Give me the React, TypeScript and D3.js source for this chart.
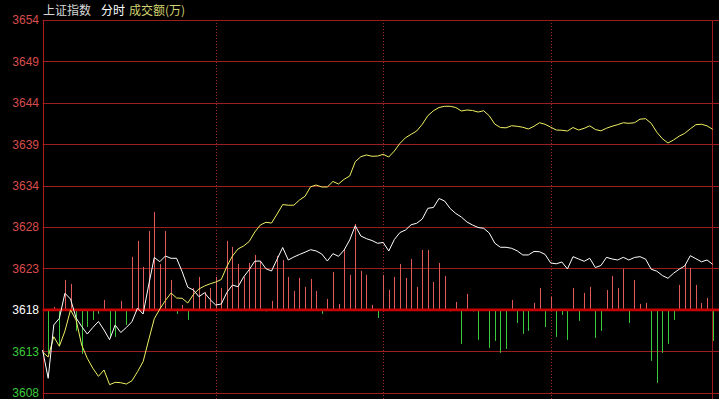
import React from "react";
import * as d3 from "d3";

// ---- data ----
const titleParts = ["上证指数", "分时", "成交额(万)"];
const tickLabels = ["3608", "3613", "3618", "3623", "3628", "3634", "3639", "3644", "3649", "3654"];
const priceDomain = [3608, 3654];
const prevClose = 3618.22;
const sessionMarks = [31, 61, 91];

// index price (white), one point per 2 minutes, starting at the open
const indexPrices = [
  3613.27, 3609.78, 3616.36, 3617.18, 3620.27, 3619.56, 3617.22, 3616.17, 3615.24, 3616.05,
  3616.79, 3615.74, 3614.54, 3616.36, 3615.43, 3616.05, 3616.76, 3618.45, 3617.71, 3621.29,
  3624.69, 3624.17, 3624.87, 3624.59, 3624.59, 3622.93, 3621.01, 3620.68, 3619.85, 3620.34,
  3619.5, 3618.82, 3618.95, 3620.37, 3621.29, 3621.08, 3622.28, 3623.18, 3624.23, 3624.25,
  3623.3, 3623.02, 3624.48, 3625.92, 3624.38, 3624.75, 3625.06, 3625.34, 3625.65, 3625.49,
  3625.12, 3624.25, 3625.16, 3624.83, 3625.61, 3626.85, 3628.61, 3627.34, 3627.01, 3626.78,
  3626.44, 3626.54, 3625.49, 3626.91, 3627.77, 3628.08, 3628.73, 3628.91, 3629.44, 3630.76,
  3630.86, 3631.97, 3631.66, 3630.73, 3630.12, 3629.68, 3629.07, 3628.7, 3628.39, 3628.29,
  3627.71, 3626.44, 3625.95, 3625.95, 3625.82, 3625.51, 3625.0, 3625.0, 3625.43, 3625.4,
  3625.06, 3624.01, 3623.91, 3624.13, 3623.27, 3624.79, 3624.5, 3624.22, 3624.59, 3623.45,
  3623.7, 3624.71, 3624.5, 3624.38, 3624.71, 3624.38, 3624.69, 3624.79, 3624.48, 3623.24,
  3623.0, 3622.46, 3622.12, 3622.74, 3623.24, 3623.64, 3624.91, 3624.54, 3624.16, 3624.38,
  3623.85,
];

// leading (unweighted) index (yellow)
const leadPrices = [
  3613.02, 3612.41, 3614.91, 3613.73, 3615.61, 3618.21, 3616.97, 3613.89, 3612.25, 3611.01,
  3610.02, 3610.8, 3608.99, 3609.28, 3609.23, 3609.07, 3609.47, 3610.59, 3611.83, 3614.5,
  3617.13, 3618.33, 3619.38, 3620.3, 3619.69, 3619.65, 3619.07, 3620.12, 3620.8, 3621.17,
  3621.44, 3621.66, 3621.97, 3623.58, 3624.87, 3625.74, 3626.11, 3626.66, 3627.83, 3628.7,
  3629.03, 3628.94, 3630.05, 3631.22, 3631.14, 3631.14, 3631.78, 3632.24, 3633.42, 3633.63,
  3633.39, 3633.39, 3634.07, 3633.76, 3634.34, 3634.74, 3636.51, 3637.13, 3637.34, 3637.18,
  3637.21, 3637.42, 3637.09, 3637.83, 3638.78, 3639.47, 3639.89, 3640.3, 3641.13, 3642.19,
  3642.8, 3643.2, 3643.35, 3643.35, 3643.2, 3642.77, 3642.89, 3642.83, 3642.64, 3642.8,
  3642.17, 3641.14, 3640.73, 3640.69, 3640.95, 3640.88, 3640.76, 3640.55, 3640.88, 3641.32,
  3641.13, 3640.77, 3640.42, 3640.39, 3640.3, 3640.73, 3640.42, 3640.63, 3640.94, 3640.48,
  3640.32, 3640.64, 3640.89, 3641.08, 3641.32, 3641.25, 3641.32, 3641.76, 3641.82, 3641.25,
  3640.15, 3639.35, 3638.82, 3639.19, 3639.66, 3640.01, 3640.57, 3641.08, 3641.13, 3640.94,
  3640.51,
];

// red/green strength bars, one per 2-minute slot
const barValues = [
  -44, 3, -36, 30, 26, -21, -44, -17, -10, -4,
  10, -27, -27, 9, -15, 53, 69, 43, 79, 98,
  46, 79, 30, -4, 5, -10, 22, 33, 18, 22,
  33, 22, 69, 63, 46, 33, 47, 55, 49, -1.5,
  9, 54, 50, 33, 19, 32, 23, 31, 19, -4,
  11, 38, 6, 61, 35, 86, 39, 35, 5, -8,
  35, 20, 33, 46, 32, 51, 23, 60, 60, 28,
  47, 34, -1.5, 8, -34, 16, -1.5, -30, 0, -38,
  -31, -43, -39, 10, -13, -24, -21, 7, 22, -17,
  13, -27, -5, -30, 22, -11, 17, 23, -28, -21,
  20, 34, 22, 41, -13, 30, 6, 7, -51, -73,
  -43, -34, -10, 25, 45, 42, 25, 7, 12, -31,
];

// ---- layout ----
const W = 719;
const H = 399;
const plotLeft = 42.6;
const plotRight = 712.3;
const plotTop = 20;
const plotBottom = 392.7;

export default function App() {
  const x = d3.scaleLinear().domain([0, 121]).range([plotLeft, 718.2]);
  const y = d3.scaleLinear().domain(priceDomain).range([plotBottom, plotTop]);
  const base = y(prevClose);
  const barY = d3.scaleLinear().domain([-100, 100]).range([base + 100, base - 100]);

  const tickValues = tickLabels.map((_, i) =>
    priceDomain[0] + (i * (priceDomain[1] - priceDomain[0])) / (tickLabels.length - 1)
  );

  const line = d3
    .line<number>()
    .x((_, i) => x(i))
    .y((d) => y(d));

  const labelColor = (i: number) => (i < 2 ? "#3cc83c" : i === 2 ? "#ffffff" : "#d84c4c");

  return (
    <div style={{ position: "fixed", left: 0, top: 0, width: W, height: H, background: "#000" }}>
      <svg width={W} height={H} style={{ display: "block", background: "#000" }}>
        {/* horizontal gridlines */}
        {tickValues.map((v, i) =>
          i === 2 ? null : (
            <line
              key={"g" + i}
              x1={plotLeft}
              x2={W}
              y1={Math.round(y(v)) + 0.5}
              y2={Math.round(y(v)) + 0.5}
              stroke="#9a1e1e"
              strokeWidth={1}
            />
          )
        )}
        {/* session dividers */}
        {sessionMarks.map((m) => (
          <line
            key={"s" + m}
            x1={Math.round(x(m)) + 0.5}
            x2={Math.round(x(m)) + 0.5}
            y1={plotTop}
            y2={H}
            stroke="#a02828"
            strokeWidth={1}
            strokeDasharray="1,2"
          />
        ))}
        {/* borders */}
        <line x1={Math.round(plotLeft) + 0.5} x2={Math.round(plotLeft) + 0.5} y1={plotTop} y2={H} stroke="#b01c1c" />
        <line x1={Math.round(plotRight) + 0.5} x2={Math.round(plotRight) + 0.5} y1={plotTop} y2={H} stroke="#a01c1c" />

        {/* bars */}
        {barValues.map((v, i) =>
          v === 0 ? null : (
            <line
              key={"b" + i}
              x1={Math.round(x(i + 1)) + 0.5}
              x2={Math.round(x(i + 1)) + 0.5}
              y1={base}
              y2={barY(v)}
              stroke={v > 0 ? "#e05a5a" : "#3cc83c"}
              strokeWidth={1}
            />
          )
        )}
        {/* previous close line */}
        <line x1={plotLeft} x2={W} y1={base} y2={base} stroke="#c80000" strokeWidth={2.8} />

        {/* lines */}
        <path d={line(leadPrices) || ""} fill="none" stroke="#f0f064" strokeWidth={1} />
        <path d={line(indexPrices) || ""} fill="none" stroke="#ffffff" strokeWidth={1} />

        {/* y labels */}
        {tickValues.map((v, i) => (
          <text
            key={"t" + i}
            x={39}
            y={y(v)}
            dy="0.36em"
            textAnchor="end"
            fontFamily="'Liberation Sans', Arial, sans-serif"
            fontSize={12}
            fill={labelColor(i)}
          >
            {tickLabels[i]}
          </text>
        ))}

        {/* title */}
        <text x={43} y={15} fontFamily="'Noto Sans CJK SC', sans-serif" fontSize={12}>
          <tspan fill="#d8d8d8">{titleParts[0]}</tspan>
          <tspan x={101} fill="#ffffff">{titleParts[1]}</tspan>
          <tspan x={129} fill="#d2d26e">{titleParts[2]}</tspan>
        </text>
      </svg>
    </div>
  );
}
